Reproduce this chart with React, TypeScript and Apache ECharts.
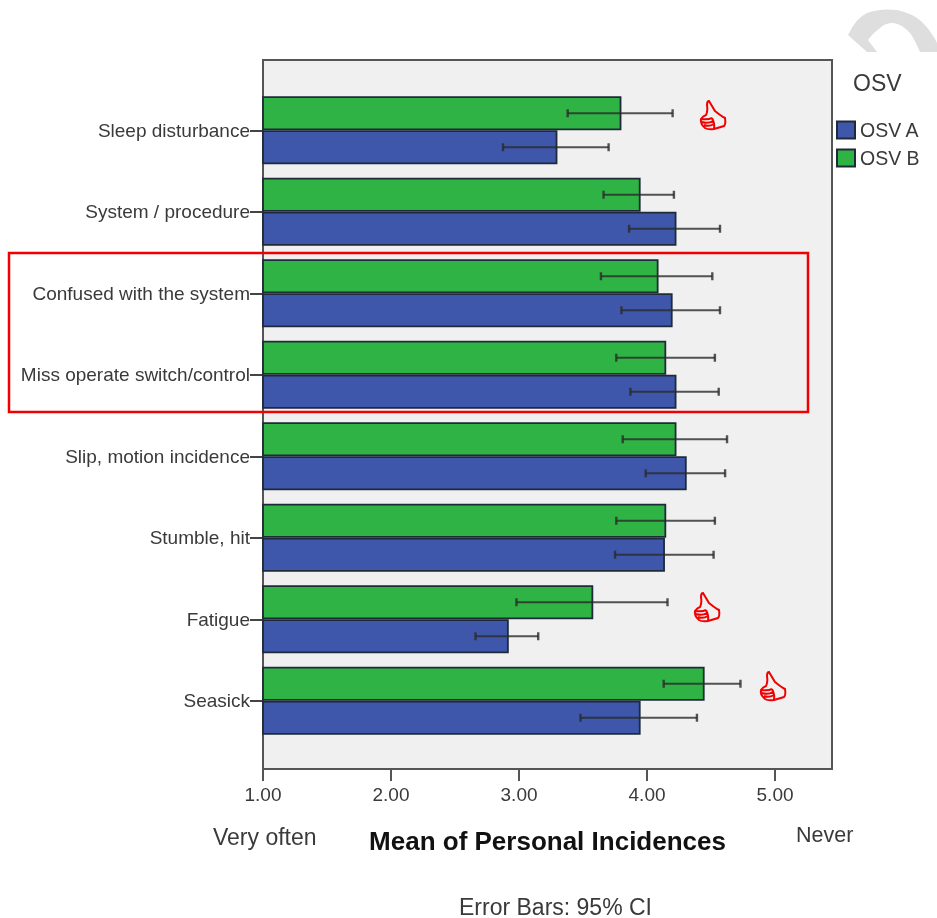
import React, { useEffect, useRef } from "react";
import * as echarts from "echarts";

const categories = [
  "Sleep disturbance",
  "System / procedure",
  "Confused with the system",
  "Miss operate switch/control",
  "Slip, motion incidence",
  "Stumble, hit",
  "Fatigue",
  "Seasick",
];
const osvB = [3.8, 3.95, 4.09, 4.15, 4.23, 4.15, 3.58, 4.45];
const osvBLow = [3.38, 3.66, 3.64, 3.76, 3.81, 3.76, 2.98, 4.13];
const osvBHigh = [4.2, 4.21, 4.51, 4.53, 4.625, 4.53, 4.16, 4.73];
const osvA = [3.3, 4.23, 4.2, 4.23, 4.31, 4.14, 2.92, 3.95];
const osvALow = [2.875, 3.86, 3.8, 3.87, 3.99, 3.75, 2.66, 3.48];
const osvAHigh = [3.7, 4.57, 4.57, 4.56, 4.61, 4.52, 3.15, 4.39];
const xTicks = [1, 2, 3, 4, 5];

const FONT = "Liberation Sans";
const TXT = "#3a3a3a";
const BAR_W = 34;
const X_MIN = 1;
const X_MAX = 5.445;

const thumbD =
  "M10 1 L16 11 Q22 16 26 18 Q27 24 25 26 L15 29 Q9 30 6 28 Q1 24 2 19 Q4 16 7 15 Q9 11 8 5 Q8 1 10 1 Z M3 19 Q9 20 13 18 M3 22 Q9 24 14 21 M5 25 Q10 27 15 24 M13 18 Q16 24 15 29";
const logoD =
  "M0 25 Q8 8 19 3 Q32 -2 49 0 Q64 3 74 12 Q84 22 89 33 L89 42 L72 42 Q67 30 62 23 Q54 14 45 13 Q37 13 32 18 Q24 24 20 30 L29 42 L19 42 Z";

echarts.graphic.registerShape("thumb", echarts.graphic.extendPath(thumbD, {}));
echarts.graphic.registerShape("cornerLogo", echarts.graphic.extendPath(logoD, {}));

function errorSeries(name: string, low: number[], high: number[], dir: number) {
  return {
    type: "custom",
    name,
    xAxisIndex: 1,
    yAxisIndex: 1,
    z: 5,
    silent: true,
    data: categories.map((_, i) => [low[i], high[i], i]),
    encode: { x: [0, 1], y: 2 },
    renderItem: (_p: any, api: any) => {
      const idx = api.value(2);
      const a = api.coord([api.value(0), idx]);
      const b = api.coord([api.value(1), idx]);
      const y = a[1] + (dir * BAR_W) / 2;
      const line = (x1: number, y1: number, x2: number, y2: number, w: number) => ({
        type: "line",
        shape: { x1, y1, x2, y2 },
        style: { stroke: "#2a2a2a", lineWidth: w, opacity: 0.8 },
      });
      return {
        type: "group",
        children: [
          line(a[0], y, b[0], y, 2),
          line(a[0], y - 4, a[0], y + 4, 2.4),
          line(b[0], y - 4, b[0], y + 4, 2.4),
        ],
      };
    },
  };
}

export default function App() {
  const ref = useRef<HTMLDivElement>(null);
  useEffect(() => {
    const chart = echarts.init(ref.current!, undefined, { renderer: "svg" });
    const barBorder = { borderColor: "#1f2a38", borderWidth: 1.8 };
    const thumb = (x: number, y: number) => ({
      type: "thumb",
      x,
      y,
      z: 20,
      style: { fill: "none", stroke: "#f00000", lineWidth: 2 },
    });
    chart.setOption({
      animation: false,
      backgroundColor: "#ffffff",
      textStyle: { fontFamily: FONT },
      grid: [
        {
          left: 263,
          top: 60,
          width: 569,
          height: 709,
          show: true,
          backgroundColor: "#f0f0f0",
          borderColor: "#555555",
          borderWidth: 2,
        },
        { left: 263, top: 89.5, width: 569, height: 652 },
      ],
      xAxis: [
        {
          type: "value",
          gridIndex: 0,
          min: X_MIN,
          max: X_MAX,
          interval: 1,
          splitLine: { show: false },
          axisLine: { show: true, lineStyle: { color: "#555555", width: 2 } },
          axisTick: { show: true, length: 12, customValues: xTicks, lineStyle: { color: "#555555", width: 2 } },
          axisLabel: {
            customValues: xTicks,
            formatter: (v: number) => v.toFixed(2),
            fontSize: 19,
            margin: 16,
            color: TXT,
            fontFamily: FONT,
          },
          name: "Mean of Personal Incidences",
          nameLocation: "middle",
          nameGap: 59,
          nameTextStyle: { fontSize: 26, fontWeight: "bold", color: "#111111", fontFamily: FONT },
        },
        {
          type: "value",
          gridIndex: 1,
          min: X_MIN,
          max: X_MAX,
          show: false,
          splitLine: { show: false },
        },
      ],
      yAxis: [
        { type: "value", gridIndex: 0, show: false, splitLine: { show: false } },
        {
          type: "category",
          gridIndex: 1,
          inverse: true,
          data: categories,
          axisLine: { show: false },
          axisTick: { show: true, alignWithLabel: true, length: 13, lineStyle: { color: "#444444", width: 2 } },
          axisLabel: { fontSize: 19, margin: 13, color: TXT, fontFamily: FONT, padding: [9, 0, 0, 0] },
        },
      ],
      legend: {
        data: ["OSV A", "OSV B"],
        orient: "vertical",
        left: 836,
        top: 120,
        padding: 0,
        icon: "rect",
        itemWidth: 18,
        itemHeight: 17,
        itemGap: 8,
        selectedMode: false,
        textStyle: { fontSize: 19.5, color: TXT, fontFamily: FONT, padding: [0, 0, 0, 0] },
      },
      series: [
        {
          type: "bar",
          name: "OSV B",
          xAxisIndex: 1,
          yAxisIndex: 1,
          data: osvB,
          barWidth: BAR_W,
          barGap: 0,
          itemStyle: { color: "#2fb344", ...barBorder },
        },
        {
          type: "bar",
          name: "OSV A",
          xAxisIndex: 1,
          yAxisIndex: 1,
          data: osvA,
          barWidth: BAR_W,
          barGap: 0,
          itemStyle: { color: "#3f57aa", ...barBorder },
        },
        errorSeries("OSV B CI", osvBLow, osvBHigh, -1),
        errorSeries("OSV A CI", osvALow, osvAHigh, 1),
      ],
      graphic: [
        { type: "cornerLogo", x: 848, y: 10, z: 1, style: { fill: "#dedede" } },
        { type: "text", x: 853, y: 71, style: { text: "OSV", fontSize: 23, fill: TXT, fontFamily: FONT } },
        { type: "text", x: 213, y: 825, style: { text: "Very often", fontSize: 23, fill: TXT, fontFamily: FONT } },
        { type: "text", x: 796, y: 824, style: { text: "Never", fontSize: 21.5, fill: TXT, fontFamily: FONT } },
        { type: "text", x: 459, y: 895, style: { text: "Error Bars: 95% CI", fontSize: 23, fill: TXT, fontFamily: FONT } },
        {
          type: "rect",
          z: 20,
          shape: { x: 9, y: 253, width: 799, height: 159 },
          style: { fill: "none", stroke: "#f00000", lineWidth: 2.5 },
        },
        thumb(699, 100),
        thumb(693, 592),
        thumb(759, 671),
      ],
    });
    return () => chart.dispose();
  }, []);
  return <div ref={ref} style={{ position: "fixed", left: 0, top: 0, width: 937, height: 918, filter: "blur(0.4px)" }} />;
}
